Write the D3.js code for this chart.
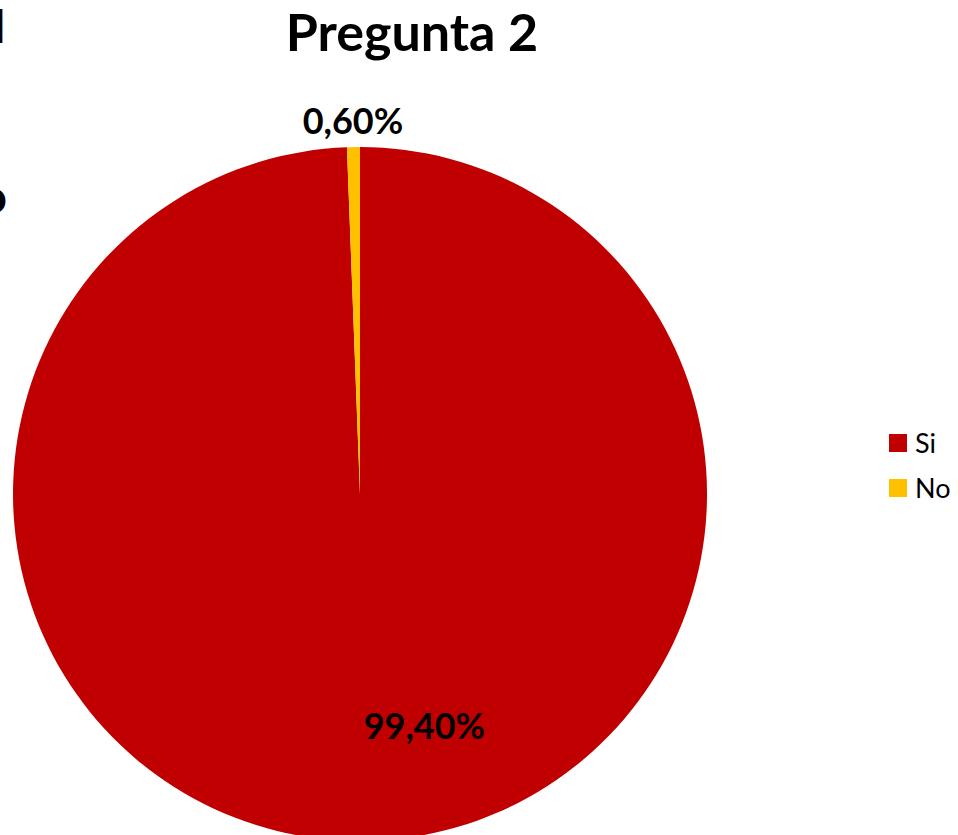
<!DOCTYPE html>
<html>
<head>
<meta charset="utf-8">
<script src="https://cdn.jsdelivr.net/npm/d3@7"></script>
<style>
  body { margin: 0; background: #fff; overflow: hidden; }
  svg text { font-family: Lato, "Open Sans", sans-serif; font-weight: bold; }
</style>
</head>
<body>
<div id="chart"></div>
<script>
// data
const categories = ["Si", "No"];
const values = [99.4, 0.6];
const labels = ["99,40%", "0,60%"];
const colors = ["#C00000", "#FFC000"];

const width = 958, height = 835;
const cx = 360, cy = 494, radius = 347;

const svg = d3.select("#chart")
  .append("svg")
  .attr("width", width)
  .attr("height", height);

// cut-off text from the neighbouring slide at the left edge
svg.append("text")
  .attr("x", 5).attr("y", 43)
  .attr("text-anchor", "end")
  .style("font-size", "46px")
  .text("d");
svg.append("text")
  .attr("x", 7).attr("y", 213)
  .attr("text-anchor", "end")
  .style("font-size", "46px")
  .text("o");

// title
svg.append("text")
  .attr("x", 412).attr("y", 51)
  .attr("text-anchor", "middle")
  .style("font-size", "52px")
  .text("Pregunta 2");

const data = categories.map((c, i) => ({ name: c, value: values[i], label: labels[i], color: colors[i] }));

const pie = d3.pie()
  .value(d => d.value)
  .sort(null);

const arc = d3.arc()
  .innerRadius(0)
  .outerRadius(radius);

const arcs = pie(data);

const g = svg.append("g")
  .attr("transform", "translate(" + cx + "," + cy + ")");

g.selectAll("path")
  .data(arcs)
  .enter()
  .append("path")
  .attr("d", arc)
  .attr("fill", d => d.data.color);

// labels: big slice inside, small slice outside
const innerArc = d3.arc().innerRadius(radius * 0.67).outerRadius(radius * 0.67);
const outerArc = d3.arc().innerRadius(radius + 26).outerRadius(radius + 26);

g.selectAll("text.lbl")
  .data(arcs)
  .enter()
  .append("text")
  .attr("class", "lbl")
  .attr("transform", (d, i) => {
    const p = i === 0 ? innerArc.centroid(d) : outerArc.centroid(d);
    const dx = i === 0 ? 60 : 0;
    return "translate(" + (p[0] + dx) + "," + p[1] + ")";
  })
  .attr("text-anchor", "middle")
  .attr("dy", "0.35em")
  .style("font-size", "36px")
  .style("fill", "#000")
  .text(d => d.data.label);

// legend
const legend = svg.append("g")
  .attr("transform", "translate(889,434)");

const item = legend.selectAll("g")
  .data(data)
  .enter()
  .append("g")
  .attr("transform", (d, i) => "translate(0," + (i * 45) + ")");

item.append("rect")
  .attr("width", 18)
  .attr("height", 18)
  .attr("fill", d => d.color);

item.append("text")
  .attr("x", 26)
  .attr("y", 19)
  .style("font-size", "27px")
  .style("font-weight", "normal")
  .text(d => d.name);
</script>
</body>
</html>
